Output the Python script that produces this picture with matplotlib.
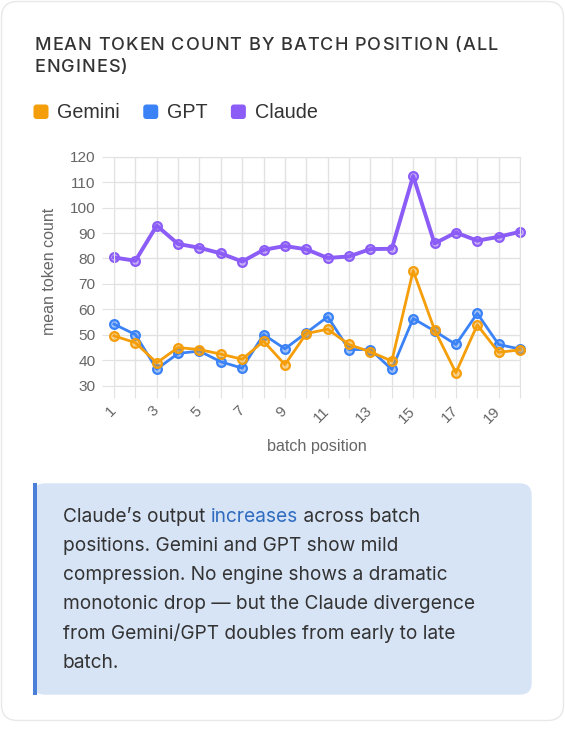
import numpy as np
import matplotlib.pyplot as plt
from matplotlib.patches import FancyBboxPatch, Rectangle
from matplotlib.colors import to_rgba

# данные
batch = list(range(1, 21))
gemini = [49.6, 46.9, 39.0, 45.0, 44.2, 42.4, 40.4, 47.5, 38.3, 50.5,
          52.2, 46.2, 43.3, 39.7, 75.2, 52.0, 35.1, 53.9, 43.1, 44.1]
gpt = [54.2, 50.1, 36.5, 42.7, 43.6, 39.4, 36.9, 50.1, 44.5, 50.8,
       57.1, 44.2, 44.2, 36.4, 56.4, 51.5, 46.2, 58.4, 46.2, 44.4]
claude = [80.4, 79.1, 92.9, 85.7, 84.2, 82.0, 78.8, 83.4, 84.9, 83.6,
          80.2, 80.8, 83.7, 83.8, 112.4, 85.9, 90.2, 87.0, 88.5, 90.5]
series_names = ['Gemini', 'GPT', 'Claude']
y_ticks = list(range(30, 121, 10))
x_tick_labels = [str(b) if b % 2 else '' for b in batch]

title_lines = ['MEAN TOKEN COUNT BY BATCH POSITION (ALL', 'ENGINES)']
note_lines = [
    [("Claude\u2019s output ", None), ("increases", 'hl'), (" across batch", None)],
    [("positions. Gemini and GPT show mild", None)],
    [("compression. No engine shows a dramatic", None)],
    [("monotonic drop \u2014 but the Claude divergence", None)],
    [("from Gemini/GPT doubles from early to late", None)],
    [("batch.", None)],
]

colors = ['#f59e0b', '#3b82f6', '#8b5cf6']
grid_c = '#e2e2e2'
text_c = '#333333'

W, H = 565, 735


def fx(x):
    return x / W


def fy(y):
    return 1 - y / H


fig = plt.figure(figsize=(W / 100, H / 100), dpi=100)
fig.patch.set_facecolor('white')
renderer = fig.canvas.get_renderer()


# прямоугольник со скруглением в пикселях
def px_box(x0, y0, x1, y1, r, **kw):
    p = FancyBboxPatch((x0 / 100, (H - y1) / 100), (x1 - x0) / 100, (y1 - y0) / 100,
                       boxstyle='round,pad=0,rounding_size=%f' % (r / 100),
                       transform=fig.dpi_scale_trans, **kw)
    fig.patches.append(p)
    return p


# карточка
px_box(1.5, 1.5, 563.5, 720.5, 16, facecolor='white', edgecolor='#e8e8e8',
       lw=1, zorder=-10)


# текст с разрядкой букв
def spaced_text(x, y, s, spacing, **kw):
    for ch in s:
        t = fig.text(fx(x), fy(y), ch, va='center', ha='left', **kw)
        w = t.get_window_extent(renderer).width
        x += w + spacing


for i, line in enumerate(title_lines):
    spaced_text(34.5, 46 + i * 21, line, 1.0, fontsize=13, color=text_c,
                fontweight='medium', family='Inter')

# легенда
lx = 33.5
for name, c in zip(series_names, colors):
    px_box(lx, 104.5, lx + 15, 119, 3, facecolor=c, edgecolor='none')
    t = fig.text(fx(lx + 24), fy(112), name, va='center', ha='left',
                 fontsize=14.2, color=text_c, family='Liberation Sans')
    lx += 24 + t.get_window_extent(renderer).width + 23

# график
ax = fig.add_axes([fx(114), fy(385.7), (520 - 114) / W, (385.7 - 156.7) / H])
data = [gemini, gpt, claude]
widths = [2, 2, 2.8]
zs = [4, 3, 2]
for vals, c, lw, z in zip(data, colors, widths, zs):
    ax.plot(batch, vals, color=c, lw=lw, marker='o', ms=6.3,
            mfc=to_rgba(c, 0.45), mec=c, mew=1.6, zorder=z, clip_on=False)

ax.set_xlim(1, 20)
ax.set_ylim(30, 120)
ax.set_yticks(y_ticks)
ax.set_xticks(batch)
ax.set_xticklabels(x_tick_labels)
ax.grid(True, color=grid_c, lw=1)
ax.set_axisbelow(True)
for s in ax.spines.values():
    s.set_color(grid_c)
ax.tick_params(axis='y', length=8.6, color=grid_c, labelcolor='#666666',
               labelsize=11.1, pad=4.5)
ax.tick_params(axis='x', length=8.5, color=grid_c, labelcolor='#666666',
               labelsize=11.1, pad=8)
for lab in ax.get_yticklabels():
    lab.set_family('Liberation Sans')
for lab in ax.get_xticklabels():
    lab.set_family('Liberation Sans')
    lab.set_rotation(45)
    lab.set_ha('right')
    lab.set_va('center')
    lab.set_rotation_mode('anchor')

fig.text(fx(49), fy(271.7), 'mean token count', rotation=90, ha='center',
         va='center', fontsize=11.5, color='#666666', family='Liberation Sans')
fig.text(fx(317), fy(446.7), 'batch position', ha='center', va='center',
         fontsize=11.6, color='#666666', family='Liberation Sans')

# выноска
px_box(33, 483.3, 531.7, 694.7, 12, facecolor='#d7e4f6', edgecolor='none',
       zorder=-5)
fig.patches.append(Rectangle((fx(33), fy(694.7)), 3.7 / W, (694.7 - 483.3) / H,
                             transform=fig.transFigure, facecolor='#4a80d8',
                             edgecolor='none', zorder=-4))

for i, parts in enumerate(note_lines):
    x = 63
    y = 517 + i * 29.1
    for s, kind in parts:
        t = fig.text(fx(x), fy(y), s, ha='left', va='center', fontsize=13.75,
                     color='#2f6cc0' if kind == 'hl' else text_c, family='Inter')
        x += t.get_window_extent(renderer).width

fig.savefig('out.png', dpi=100)
